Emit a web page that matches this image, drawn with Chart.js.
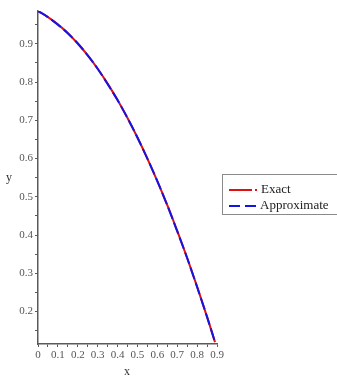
<!DOCTYPE html>
<html>
<head>
<meta charset="utf-8">
<script src="https://cdn.jsdelivr.net/npm/chart.js@4.4.1/dist/chart.umd.min.js"></script>
<style>
  html, body { margin: 0; padding: 0; background: #fff; }
  #wrap { position: relative; width: 337px; height: 379px; }
</style>
</head>
<body>
<div id="wrap"><canvas id="plot" width="337" height="379"></canvas></div>
<script>
// --- dados ---
const xValues = [0, 0.05, 0.1, 0.15, 0.2, 0.25, 0.3, 0.35, 0.4, 0.45, 0.5, 0.55, 0.6, 0.65, 0.7, 0.75, 0.8, 0.85, 0.89];
const exactValues = [0.986, 0.970, 0.951, 0.928, 0.901, 0.870, 0.835, 0.796, 0.753, 0.706, 0.655, 0.600, 0.541, 0.478, 0.411, 0.340, 0.265, 0.186, 0.120];
const approxValues = [0.986, 0.970, 0.950, 0.928, 0.901, 0.870, 0.835, 0.795, 0.753, 0.706, 0.655, 0.600, 0.541, 0.478, 0.410, 0.340, 0.264, 0.186, 0.120];
const xTicks = [0, 0.05, 0.1, 0.15, 0.2, 0.25, 0.3, 0.35, 0.4, 0.45, 0.5, 0.55, 0.6, 0.65, 0.7, 0.75, 0.8, 0.85, 0.9];
const yTicks = [0.15, 0.2, 0.25, 0.3, 0.35, 0.4, 0.45, 0.5, 0.55, 0.6, 0.65, 0.7, 0.75, 0.8, 0.85, 0.9, 0.95];
const seriesNames = ['Exact', 'Approximate'];

const serif = '"Liberation Serif", "DejaVu Serif", serif';
const axisGray = '#5a5a5a';
const red = '#e01010';
const blue = '#1414e6';

function pts(ys) { return xValues.map((x, i) => ({ x: x, y: ys[i] })); }
function isMajor(v) { return Math.abs(v * 10 - Math.round(v * 10)) < 1e-6; }

// legenda e rótulos dos eixos no estilo do Maple
const extras = {
    id: 'extras',
    afterDraw(chart) {
        const ctx = chart.ctx;
        ctx.save();
        ctx.font = '12px ' + serif;
        ctx.fillStyle = '#333';
        ctx.textBaseline = 'middle';
        ctx.textAlign = 'left';
        ctx.fillText('y', 6, 178);
        ctx.textAlign = 'center';
        ctx.fillText('x', 127, 372);

        // caixa da legenda
        ctx.strokeStyle = '#8a8a8a';
        ctx.lineWidth = 1;
        ctx.strokeRect(222.5, 174.5, 120, 40);

        ctx.lineWidth = 2;
        ctx.strokeStyle = red;
        ctx.beginPath(); ctx.moveTo(229, 190); ctx.lineTo(252, 190); ctx.stroke();
        ctx.beginPath(); ctx.moveTo(255, 190); ctx.lineTo(257, 190); ctx.stroke();

        ctx.strokeStyle = blue;
        ctx.setLineDash([11, 5]);
        ctx.beginPath(); ctx.moveTo(229, 206); ctx.lineTo(258, 206); ctx.stroke();
        ctx.setLineDash([]);

        ctx.fillStyle = '#222';
        ctx.font = '13px ' + serif;
        ctx.textAlign = 'left';
        ctx.fillText(seriesNames[0], 261, 190);
        ctx.fillText(seriesNames[1], 260, 206);
        ctx.restore();
    }
};

new Chart(document.getElementById('plot'), {
    type: 'line',
    data: {
        datasets: [
            {
                label: seriesNames[0],
                data: pts(exactValues),
                borderColor: red,
                borderWidth: 2,
                pointRadius: 0,
                cubicInterpolationMode: 'monotone',
                fill: false,
                order: 2
            },
            {
                label: seriesNames[1],
                data: pts(approxValues),
                borderColor: blue,
                borderWidth: 2,
                borderDash: [12, 4],
                pointRadius: 0,
                cubicInterpolationMode: 'monotone',
                fill: false,
                order: 1
            }
        ]
    },
    options: {
        responsive: false,
        animation: false,
        layout: { padding: { top: 11, right: 120, left: 0, bottom: 0 } },
        plugins: { legend: { display: false }, tooltip: { enabled: false } },
        scales: {
            x: {
                type: 'linear',
                min: 0,
                max: 0.9,
                afterBuildTicks(s) { s.ticks = xTicks.map(v => ({ value: v })); },
                afterFit(s) { s.height = 35; },
                border: { color: axisGray, width: 1.5 },
                grid: { drawOnChartArea: false, tickLength: 3, color: axisGray },
                ticks: {
                    autoSkip: false,
                    maxRotation: 0,
                    padding: 2,
                    color: '#555',
                    font: { family: serif, size: 11 },
                    callback: v => isMajor(v) ? (v === 0 ? '0' : v.toFixed(1)) : ''
                }
            },
            y: {
                type: 'linear',
                min: 0.115,
                max: 0.986,
                afterBuildTicks(s) { s.ticks = yTicks.map(v => ({ value: v })); },
                afterFit(s) { s.width = 38; },
                border: { color: axisGray, width: 1.5 },
                grid: { drawOnChartArea: false, tickLength: 3, color: axisGray },
                ticks: {
                    autoSkip: false,
                    padding: 2,
                    color: '#555',
                    font: { family: serif, size: 11 },
                    callback: v => isMajor(v) ? v.toFixed(1) : ''
                }
            }
        }
    },
    plugins: [extras]
});
</script>
</body>
</html>
